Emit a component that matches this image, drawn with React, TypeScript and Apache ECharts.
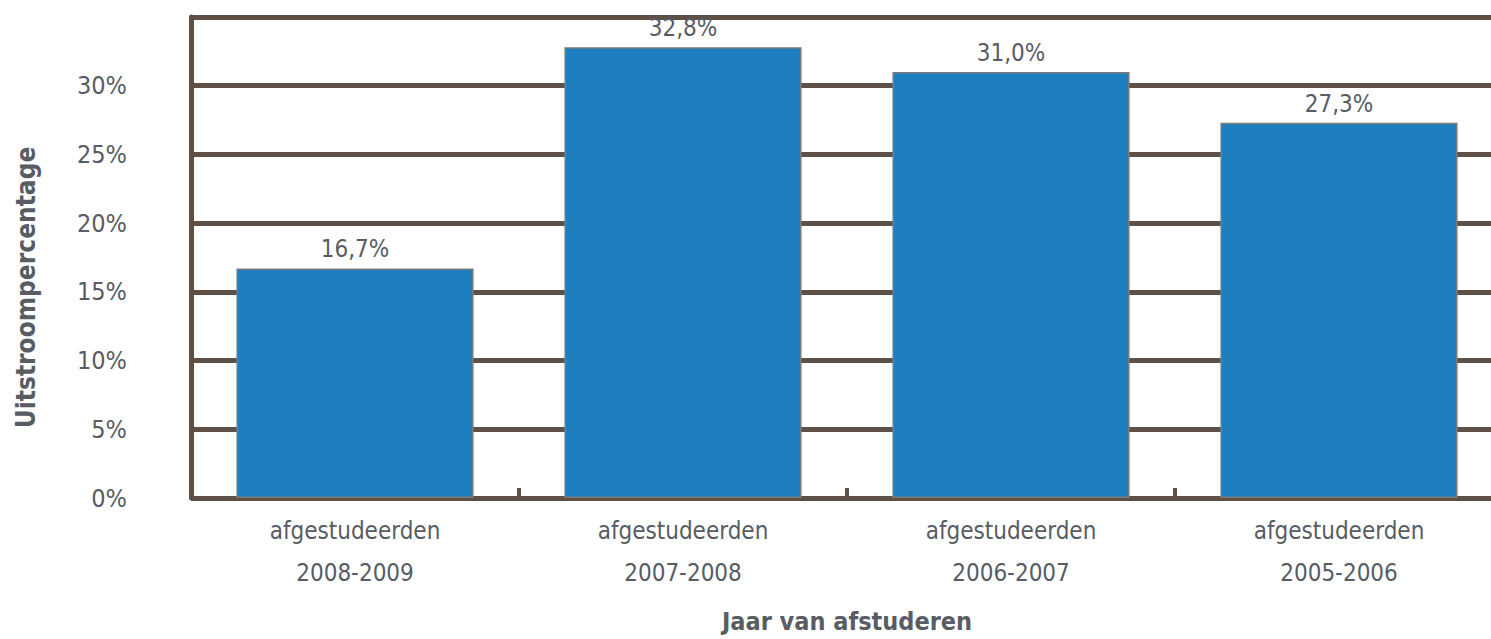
import React, { useEffect, useRef } from "react";
import * as echarts from "echarts";

const categories = [
  "afgestudeerden\n2008-2009",
  "afgestudeerden\n2007-2008",
  "afgestudeerden\n2006-2007",
  "afgestudeerden\n2005-2006",
];
const values = [16.7, 32.8, 31.0, 27.3];
const yTicks = [0, 5, 10, 15, 20, 25, 30, 35];

const FONT = "'Liberation Sans Narrow', 'DejaVu Sans Condensed', 'Roboto Condensed', 'Noto Sans', sans-serif";
const TEXT = "#585c63";
const LINE = "#5f5045";

export default function App() {
  const ref = useRef<HTMLDivElement>(null);
  useEffect(() => {
    if (!ref.current) return;
    const chart = echarts.init(ref.current, null, { renderer: "svg" });
    chart.setOption({
      animation: false,
      backgroundColor: "#ffffff",
      grid: {
        left: 191,
        top: 17,
        width: 1312,
        height: 481,
        containLabel: false,
        outerBoundsMode: "none",
      },
      xAxis: {
        type: "category",
        data: categories,
        name: "Jaar van afstuderen",
        nameLocation: "middle",
        nameGap: 111,
        nameTextStyle: { fontFamily: FONT, fontSize: 25, fontWeight: "bold", color: TEXT },
        axisLine: { show: true, lineStyle: { color: LINE, width: 4 } },
        axisTick: { show: true, inside: true, length: 10, lineStyle: { color: LINE, width: 4 } },
        axisLabel: {
          fontFamily: FONT,
          fontSize: 24,
          color: TEXT,
          lineHeight: 42,
          margin: 12,
        },
        splitLine: { show: false },
      },
      yAxis: {
        type: "value",
        min: yTicks[0],
        max: yTicks[yTicks.length - 1],
        interval: 5,
        name: "Uitstroompercentage",
        nameLocation: "middle",
        nameGap: 152,
        nameRotate: 90,
        nameTextStyle: { fontFamily: FONT, fontSize: 26, fontWeight: "bold", color: TEXT, padding: [0, 0, 0, -60] },
        axisLine: { show: true, lineStyle: { color: LINE, width: 5 } },
        axisTick: { show: false },
        axisLabel: {
          fontFamily: FONT,
          fontSize: 25,
          color: TEXT,
          margin: 64,
          padding: [10, 0, 0, 0],
          formatter: (v: number) => (v === 35 ? "" : `${v}%`),
        },
        splitLine: { show: true, lineStyle: { color: LINE, width: 5 } },
      },
      series: [
        {
          type: "bar",
          data: values,
          barCategoryGap: "27.7%",
          itemStyle: { color: "#1d7fbd", borderColor: "#7a7a7a", borderWidth: 1.5 },
          label: {
            show: true,
            position: "top",
            distance: 7,
            fontFamily: FONT,
            fontSize: 24,
            color: TEXT,
            formatter: (p: any) => `${p.value.toFixed(1).replace(".", ",")}%`,
          },
        },
      ],
    });
    return () => chart.dispose();
  }, []);
  return (
    <div
      ref={ref}
      style={{ position: "fixed", left: 0, top: 0, width: 1491, height: 639, background: "#fff" }}
    />
  );
}
